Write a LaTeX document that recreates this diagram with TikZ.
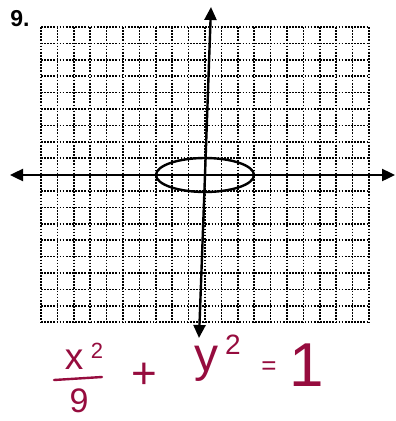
\documentclass[tikz,border=0pt]{standalone}
\usepackage{fontspec}
\setmainfont{Liberation Sans}
\usetikzlibrary{arrows.meta}
\definecolor{ink}{RGB}{150,12,62}
\tikzset{
  gridline/.style={line width=1.5pt, dash pattern=on 1.7pt off 1.4pt, black},
  axisline/.style={line width=2.4pt, -{Triangle[length=13pt,width=12pt]}},
  curve/.style={line width=2.4pt},
  hand/.style={ink, inner sep=0pt, font=#1},
}
\begin{document}
\begin{tikzpicture}[x=1pt,y=-1pt]
\useasboundingbox (0,0) rectangle (396,421);
\fill[white] (0,0) rectangle (396,421);
% grid
\foreach \i in {0,...,20} {\draw[gridline] (41+16.4*\i,27) -- (41+16.4*\i,322.2);}
\foreach \j in {0,...,18} {\draw[gridline] (41,27+16.4*\j) -- (369,27+16.4*\j);}
% axes
\coordinate (origin) at (205,175);
\coordinate (xl) at (10,175);
\coordinate (xr) at (395,175);
\coordinate (yt) at (211,7);
\coordinate (yb) at (199,338);
\coordinate (ymid) at (205,175);
\draw[axisline] (ymid) -- (xl);
\draw[axisline] (ymid) -- (xr);
\draw[axisline] (ymid) -- (yt);
\draw[axisline] (ymid) -- (yb);
% ellipse
\draw[curve] (origin) ellipse [x radius=49, y radius=17];
% problem number
\node[inner sep=0pt, font=\fontsize{23}{23}\selectfont\bfseries] (num) at (20,19) {9.};
% equation
\node[hand=\fontsize{37}{37}\selectfont] (ex) at (74,360) {x};
\node[hand=\fontsize{22}{22}\selectfont] (ex2) at (97,351) {2};
\coordinate (barL) at (54,380);
\coordinate (barR) at (102,377);
\draw[ink, line width=2.4pt, line cap=round] (barL) -- (barR);
\node[hand=\fontsize{34}{34}\selectfont] (nine) at (79,401) {9};
\node[hand=\fontsize{44}{44}\selectfont] (plus) at (144,376) {+};
\node[hand=\fontsize{48}{48}\selectfont] (ey) at (206,364) {y};
\node[hand=\fontsize{28}{28}\selectfont] (ey2) at (233,345) {2};
\node[hand=\fontsize{26}{26}\selectfont] (eq) at (269,368) {=};
\node[hand=\fontsize{62}{62}\selectfont] (one) at (307,365) {1};
\end{tikzpicture}
\end{document}
